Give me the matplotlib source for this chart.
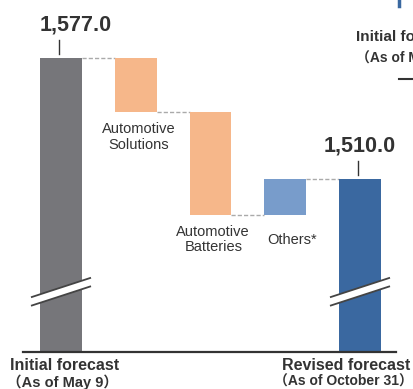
import matplotlib.pyplot as plt
from matplotlib.patches import Polygon

# forecast values (billion yen), axis is broken between base and the bar tops
initial = 1577.0
revised = 1510.0
steps = ["Automotive\nSolutions", "Automotive\nBatteries", "Others*"]
deltas = [-30.0, -57.0, 20.0]
base = 1414.0  # where the broken bars meet the baseline

gray = "#76767a"
orange = "#f6b78a"
light_blue = "#789ccb"
dark_blue = "#3a68a0"
txt = "#333333"

fig = plt.figure(figsize=(4.14, 3.89), dpi=100)
ax = fig.add_axes([0, 0, 1, 1])

# pixel -> data helpers (layout only)
xs = 74.75
ys = 67.0 / 121.0
def X(px):
    return (px - 61) / xs
def Y(py):
    return initial - (py - 58) * ys

ax.set_xlim(X(0), X(414))
ax.set_ylim(Y(389), Y(0))
ax.axis("off")

w = 0.56
# totals
ax.bar(0, initial - base, bottom=base, width=w, color=gray, zorder=2)
ax.bar(4, revised - base, bottom=base, width=w, color=dark_blue, zorder=2)

# steps
level = initial
for i, d in enumerate(deltas):
    new = level + d
    c = orange if d < 0 else light_blue
    ax.bar(i + 1, abs(d), bottom=min(level, new), width=w, color=c, zorder=2)
    # connector from previous bar
    ax.plot([i + w / 2, i + 1 - w / 2], [level, level], color="#aaaaaa",
            lw=1, ls=(0, (3, 1.5)), zorder=1)
    lo = min(level, new)
    if d < 0:
        ax.annotate(steps[i], (i + 1, lo), xytext=(2, -7), textcoords="offset points",
                    ha="center", va="top", fontsize=10.5, color=txt,
                    family="Liberation Sans", linespacing=1.15)
    else:
        ax.annotate(steps[i], (i + 1, lo), xytext=(5, -13), textcoords="offset points",
                    ha="center", va="top", fontsize=10.5, color=txt,
                    family="Liberation Sans")
    level = new
ax.plot([3 + w / 2, 4 - w / 2], [revised, revised], color="#aaaaaa",
        lw=1, ls=(0, (3, 1.5)), zorder=1)

# value labels with small leader ticks
for xi, v in [(0, initial), (4, revised)]:
    ax.plot([xi - 0.025, xi - 0.025], [v + 4 * ys, v + 18 * ys], color=txt, lw=1)
for xi, v, dx in [(0, initial, 0.2), (4, revised, 0.0)]:
    ax.text(xi + dx, v + 33 * ys, f"{v:,.1f}", ha="center", va="center",
            fontsize=15.5, fontweight="bold", color=txt, family="Liberation Sans")

# break marks
for xi in [0, 4]:
    x0, x1 = xi - 0.39, xi + 0.39
    ya0, ya1 = Y(297), Y(278)
    yb0, yb1 = Y(305.5), Y(286.5)
    ax.add_patch(Polygon([[x0, ya0], [x1, ya1], [x1, yb1], [x0, yb0]],
                         closed=True, facecolor="white", edgecolor="none", zorder=3))
    ax.plot([x0, x1], [ya0, ya1], color="#444444", lw=1.3, zorder=4)
    ax.plot([x0, x1], [yb0, yb1], color="#444444", lw=1.3, zorder=4)

# baseline
ax.plot([X(23), X(396)], [Y(352), Y(352)], color=txt, lw=1.6, zorder=4)

fam = ["Liberation Sans", "Noto Sans CJK JP"]
ax.text(X(10), Y(365), "Initial forecast", ha="left", va="center",
        fontsize=11.5, fontweight="bold", color=txt, family=fam)
ax.text(X(7), Y(382), "（As of May 9）", ha="left", va="center",
        fontsize=10.5, fontweight="bold", color=txt, family=fam)
ax.text(X(282), Y(365), "Revised forecast", ha="left", va="center",
        fontsize=11.5, fontweight="bold", color=txt, family=fam)
ax.text(X(274), Y(382), "（As of October 31）", ha="left", va="center",
        fontsize=10, fontweight="bold", color=txt, family=fam)

# clipped legend fragment at top right
ax.text(X(356), Y(37), "Initial forecast", ha="left", va="center",
        fontsize=11, fontweight="bold", color=txt, family=fam)
ax.text(X(356), Y(58), "（As of May 9）", ha="left", va="center",
        fontsize=10, fontweight="bold", color=txt, family=fam)
ax.plot([X(399), X(414)], [Y(79), Y(79)], color=txt, lw=1.5)
ax.plot([X(399.5), X(399.5)], [Y(0), Y(6)], color=dark_blue, lw=2.5)

fig.savefig("out.png", dpi=100)
